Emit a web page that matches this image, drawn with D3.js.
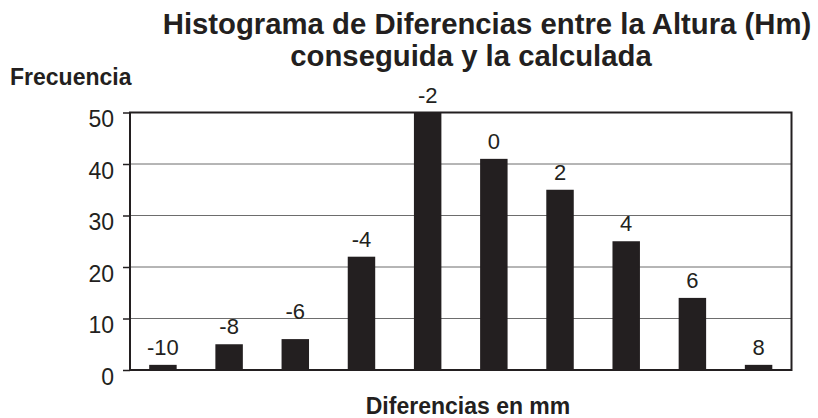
<!DOCTYPE html>
<html>
<head>
<meta charset="utf-8">
<script src="https://cdn.jsdelivr.net/npm/d3@7"></script>
<style>
  html, body { margin: 0; padding: 0; background: #fff; }
  svg { display: block; }
  text { font-family: "Liberation Sans", Arial, sans-serif; fill: #231f20; }
</style>
</head>
<body>
<script>
const categories = ["-10", "-8", "-6", "-4", "-2", "0", "2", "4", "6", "8"];
const frequencies = [1, 5, 6, 22, 50, 41, 35, 25, 14, 1];
const yTicks = [0, 10, 20, 30, 40, 50];
const titleLines = ["Histograma de Diferencias entre la Altura (Hm)", "conseguida y la calculada"];
const yAxisTitle = "Frecuencia";
const xAxisTitle = "Diferencias en mm";

const W = 818, H = 418;
const m = { left: 130, right: 818 - 791.5, top: 112.5, bottom: 418 - 370 };

const svg = d3.select("body").append("svg").attr("width", W).attr("height", H);

const x = d3.scaleBand().domain(categories).range([m.left, W - m.right]).paddingInner(0.585).paddingOuter(0.29);
const y = d3.scaleLinear().domain([0, 50]).range([H - m.bottom, m.top]);

// gridlines
svg.append("g").selectAll("line").data(yTicks.filter(t => t > 0 && t < 50)).join("line")
  .attr("x1", m.left).attr("x2", W - m.right)
  .attr("y1", d => y(d)).attr("y2", d => y(d))
  .attr("stroke", "#6d6d6d").attr("stroke-width", 1);

// bars
svg.append("g").selectAll("rect").data(categories).join("rect")
  .attr("x", d => x(d))
  .attr("width", x.bandwidth())
  .attr("y", (d, i) => y(frequencies[i]))
  .attr("height", (d, i) => y(0) - y(frequencies[i]))
  .attr("fill", "#231f20");

// frame
svg.append("rect")
  .attr("x", m.left).attr("y", m.top)
  .attr("width", W - m.right - m.left).attr("height", y(0) - m.top)
  .attr("fill", "none").attr("stroke", "#231f20").attr("stroke-width", 2);

// y axis
const yAxis = d3.axisLeft(y).tickValues(yTicks).tickSize(7).tickPadding(9).tickFormat(d3.format("d"));
const ga = svg.append("g").attr("transform", `translate(${m.left},0)`).call(yAxis);
ga.select(".domain").remove();
ga.selectAll(".tick line").attr("stroke", "#231f20").attr("stroke-width", 1.5);
ga.selectAll(".tick text").attr("font-size", 23).attr("dy", "0.62em")
  .style("font-family", '"Liberation Sans", Arial, sans-serif').attr("fill", "#231f20");

// bar labels
svg.append("g").selectAll("text").data(categories).join("text")
  .attr("x", d => x(d) + x.bandwidth() / 2)
  .attr("y", (d, i) => y(frequencies[i]) - (d === "-6" ? 20 : 10))
  .attr("text-anchor", "middle")
  .attr("font-size", 22)
  .text(d => d);

// titles
const titleX = [487, 471];
svg.append("g").selectAll("text").data(titleLines).join("text")
  .attr("x", (d, i) => titleX[i]).attr("y", (d, i) => 34.3 + i * 31.7)
  .attr("text-anchor", "middle")
  .attr("font-size", 29.3).attr("font-weight", "bold")
  .text(d => d);

svg.append("text").attr("x", 10).attr("y", 85)
  .attr("font-size", 23).attr("font-weight", "bold").text(yAxisTitle);

svg.append("text").attr("x", 468).attr("y", 414)
  .attr("text-anchor", "middle")
  .attr("font-size", 23).attr("font-weight", "bold").text(xAxisTitle);
</script>
</body>
</html>
